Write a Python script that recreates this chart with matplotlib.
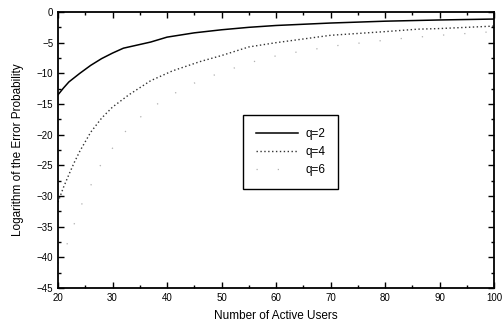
import matplotlib
matplotlib.use("Agg")
import matplotlib.pyplot as plt
from matplotlib.ticker import MultipleLocator

plt.rcParams['font.family'] = ['Liberation Sans', 'DejaVu Sans']

x_q2 = [20, 21, 22, 24, 26, 28, 30, 32, 35, 37, 40, 45, 50, 55, 60, 70, 80, 90, 100]
y_q2 = [-13.5, -12.4, -11.4, -10.0, -8.7, -7.6, -6.7, -5.9, -5.3, -4.9, -4.1, -3.4, -2.9, -2.5, -2.2, -1.8, -1.5, -1.3, -1.15]

x_q4 = [20, 21, 22, 23, 24, 26, 28, 30, 33, 37, 41, 46, 50, 55, 60, 70, 80, 86, 90, 100]
y_q4 = [-31.0, -28.6, -26.5, -24.5, -22.7, -19.6, -17.3, -15.5, -13.5, -11.2, -9.6, -8.1, -7.1, -5.7, -5.0, -3.8, -3.2, -2.8, -2.7, -2.3]

x_q6 = [20, 21, 24, 28, 32, 36, 40, 45, 50, 58, 64, 71, 77, 82, 90, 100]
y_q6 = [-41.0, -39.5, -32.0, -24.6, -19.8, -16.4, -13.9, -11.6, -9.8, -7.5, -6.5, -5.5, -4.9, -4.4, -3.8, -3.2]

fig = plt.figure(figsize=(5.03, 3.33), dpi=100)
ax = fig.add_axes([0.1153, 0.135, 0.867, 0.829])

ax.plot(x_q2, y_q2, color='black', lw=1.1, label='q=2')
ax.plot(x_q4, y_q4, color='#333333', lw=1.0, linestyle=(0, (1, 1.8)), label='q=4')
ax.plot(x_q6, y_q6, color='#b0b0b0', lw=0.9, linestyle=(0, (1, 16)), label='q=6')

ax.set_xlim(20, 100)
ax.set_ylim(-45, 0)
ax.xaxis.set_major_locator(MultipleLocator(10))
ax.xaxis.set_minor_locator(MultipleLocator(5))
ax.yaxis.set_major_locator(MultipleLocator(5))
ax.yaxis.set_minor_locator(MultipleLocator(2.5))
ax.tick_params(which='both', direction='in', top=True, right=True, labelsize=7, width=1.0)
ax.tick_params(which='major', length=4)
ax.tick_params(which='minor', length=2)
for s in ax.spines.values():
    s.set_linewidth(1.3)

ax.set_xlabel('Number of Active Users', fontsize=8.5, labelpad=5)
ax.set_ylabel('Logarithm of the Error Probability', fontsize=8.5, labelpad=9)

leg = ax.legend(loc='upper left', bbox_to_anchor=(0.424, 0.627), borderaxespad=0,
                fontsize=8.5, frameon=True, fancybox=False, edgecolor='black',
                framealpha=1, handlelength=3.6, borderpad=1.1, labelspacing=0.5,
                handletextpad=0.6)
leg.get_frame().set_linewidth(1.0)

fig.savefig('out.png', dpi=100)
